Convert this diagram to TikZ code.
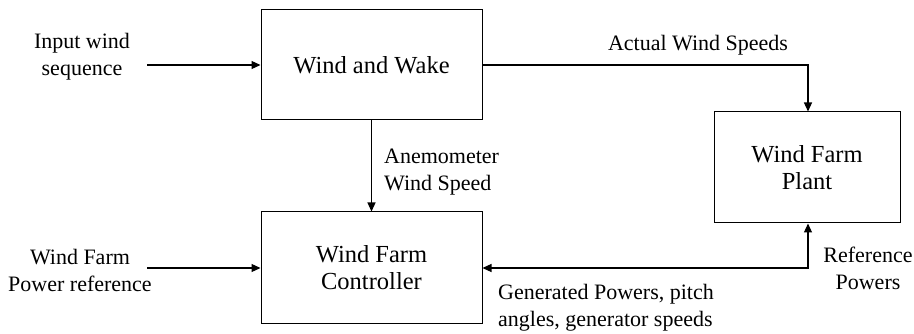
\documentclass[tikz,border=0pt]{standalone}
\usepackage{fontspec}
\setmainfont{Liberation Serif}
\usetikzlibrary{arrows.meta}
\begin{document}
\begin{tikzpicture}[x=1pt,y=-1pt,
  blk/.style={draw,line width=1pt,inner sep=0pt,align=center,font=\fontsize{24.5}{27}\selectfont},
  lbl/.style={inner sep=0pt,font=\fontsize{22}{27}\selectfont},
  conn/.style={line width=1.2pt,-{Triangle[length=9pt,width=8pt]}},
  both/.style={line width=1.2pt,{Triangle[length=9pt,width=8pt]}-{Triangle[length=9pt,width=8pt]}}]
\useasboundingbox (0,0) rectangle (914,334);
\node[blk,minimum width=221pt,minimum height=110pt] (wake) at (371.5,65) {Wind and Wake};
\node[blk,minimum width=221pt,minimum height=111pt] (ctrl) at (371.5,267.5) {Wind Farm\\Controller};
\node[blk,minimum width=186pt,minimum height=111pt] (plant) at (807,167.5) {Wind Farm\\Plant};
\node[lbl,align=center] (inl) at (82,57) {Input wind\\sequence};
\node[lbl,align=center] (pwl) at (80,270) {Wind Farm\\Power reference};
\node[lbl] (act) at (698,45) {Actual Wind Speeds};
\node[lbl,align=left,anchor=west] (ane) at (384,172) {Anemometer\\Wind Speed};
\node[lbl,align=left,anchor=west] (gen) at (498,308) {Generated Powers, pitch\\angles, generator speeds};
\node[lbl,align=center] (refp) at (868,268) {Reference\\Powers};
\coordinate (inS) at (147,65);
\coordinate (pwS) at (147,268);
\coordinate (c1) at (808,65);
\coordinate (c2) at (808,268);
\draw[conn] (inS) -- (wake.west);
\draw[conn] (pwS) -- (ctrl.west |- pwS);
\draw[conn] (wake.east |- c1) -- (c1) -- (plant.north -| c1);
\draw[conn] (wake.south) -- (ctrl.north);
\draw[both] (ctrl.east |- c2) -- (c2) -- (plant.south -| c2);
\end{tikzpicture}
\end{document}
